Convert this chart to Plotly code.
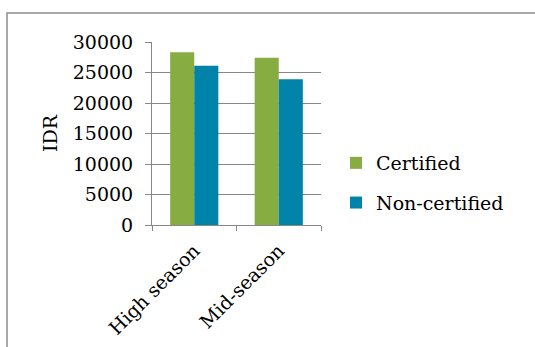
import plotly.graph_objects as go

# Data
seasons = ['High season', 'Mid-season']
certified = [28300, 27400]
non_certified = [26100, 23900]

W, H = 535, 347
# plot area in pixels (left, right, top, bottom)
pl, pr, pt, pb = 152, 321, 42, 225

font = dict(family='DejaVu Serif', size=19, color='black')
grey = '#878787'

fig = go.Figure()
fig.add_trace(go.Bar(x=seasons, y=certified, name='Certified',
                     marker=dict(color='#87AC42', line=dict(width=0)),
                     legendgroup='a'))
fig.add_trace(go.Bar(x=seasons, y=non_certified, name='Non-certified',
                     marker=dict(color='#0083A8', line=dict(width=0)),
                     legendgroup='b'))

fig.update_layout(
    width=W, height=H,
    margin=dict(l=pl, r=W - pr, t=pt, b=H - pb),
    paper_bgcolor='white', plot_bgcolor='white',
    font=font,
    bargap=0.43, bargroupgap=0,
    showlegend=True,
    legend=dict(x=(336 - pl) / (pr - pl), y=(pb - 183) / (pb - pt),
                xanchor='left', yanchor='middle',
                font=font, tracegroupgap=12, itemwidth=30,
                bgcolor='rgba(0,0,0,0)'),
)

fig.update_xaxes(
    type='category', tickson='boundaries', ticks='outside', ticklen=5,
    tickcolor=grey, tickangle=-45, showline=True, linecolor=grey,
    linewidth=1, showgrid=False, tickfont=font, automargin=False,
    ticklabelstandoff=6,
)
fig.update_yaxes(
    range=[0, 30000], dtick=5000, tickformat='d', ticks='outside', ticklen=6,
    tickcolor=grey, showline=True, linecolor=grey, linewidth=1,
    showgrid=True, gridcolor=grey, gridwidth=1, zeroline=False,
    tickfont=font, ticklabelstandoff=8, automargin=False,
    title=dict(text='IDR', font=font, standoff=10),
)

# outer chart border (runs off the right and bottom of the picture)
fig.add_shape(type='rect', xref='paper', yref='paper',
              x0=(7 - pl) / (pr - pl), x1=(W + 10 - pl) / (pr - pl),
              y0=(pb - (H + 10)) / (pb - pt), y1=(pb - 13) / (pb - pt),
              line=dict(color='#8c8c8c', width=1.5), layer='below')

# drop the browser's default page margin so the figure sits at (0, 0)
fig.write_html('out.html', config={'displayModeBar': False, 'staticPlot': True},
               post_script="document.body.style.margin='0';")
